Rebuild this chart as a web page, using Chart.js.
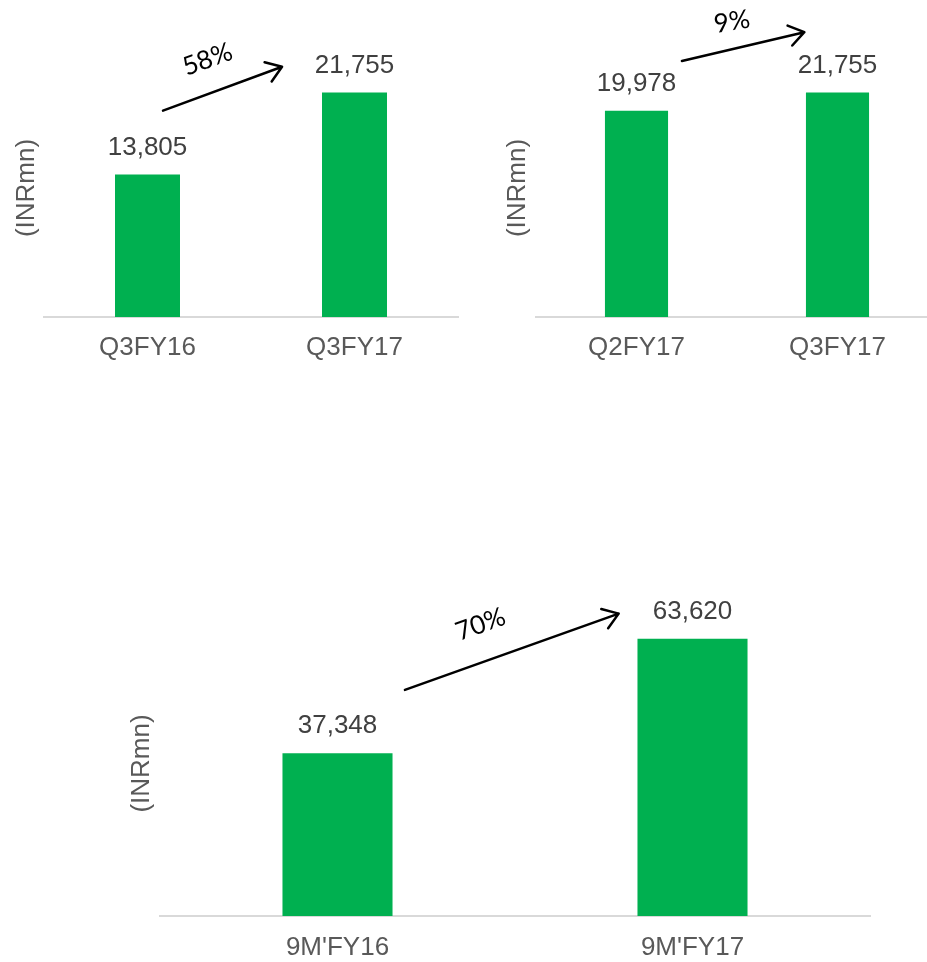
<!DOCTYPE html>
<html>
<head>
<meta charset="utf-8">
<script src="https://cdn.jsdelivr.net/npm/chart.js@4/dist/chart.umd.min.js"></script>
<style>
  html, body { margin: 0; padding: 0; background: #ffffff; overflow: hidden; width: 927px; height: 962px; }
  .box { position: absolute; }
</style>
</head>
<body>
<div class="box" style="left:0px;top:0px;width:470px;height:370px;"><canvas id="c1"></canvas></div>
<div class="box" style="left:480px;top:0px;width:470px;height:370px;"><canvas id="c2"></canvas></div>
<div class="box" style="left:100px;top:540px;width:800px;height:422px;"><canvas id="c3"></canvas></div>
<script>
// ---- data ----
const categoriesQoQYoY = ["Q3FY16", "Q3FY17"];
const valuesQoQYoY = [13805, 21755];
const categoriesQoQ = ["Q2FY17", "Q3FY17"];
const valuesQoQ = [19978, 21755];
const categories9M = ["9M'FY16", "9M'FY17"];
const values9M = [37348, 63620];
const growthLabels = ["58%", "9%", "70%"];
const yAxisTitle = "(INRmn)";
const yMaxQuarter = 25000;
const yMax9M = 70000;

const GREEN = "#00B050";
const FONT = "'Liberation Sans', Arial, sans-serif";

// draws value labels, rotated y title, and growth arrows
const decorPlugin = {
  id: 'decor',
  afterDatasetsDraw(chart, args, opts) {
    const ctx = chart.ctx;
    const area = chart.chartArea;
    const meta = chart.getDatasetMeta(0);
    const ds = chart.data.datasets[0];
    ctx.save();
    // value labels
    ctx.font = "26px " + FONT;
    ctx.fillStyle = "#404040";
    ctx.textAlign = "center";
    ctx.textBaseline = "middle";
    meta.data.forEach((bar, i) => {
      ctx.fillText(ds.data[i].toLocaleString('en-US'), bar.x, bar.y - 27);
    });
    // y title
    ctx.save();
    ctx.translate(area.left - opts.titleOffset, (area.top + area.bottom) / 2);
    ctx.rotate(-Math.PI / 2);
    ctx.fillStyle = "#595959";
    ctx.font = "26px " + FONT;
    ctx.fillText(yAxisTitle, 0, 0);
    ctx.restore();
    // arrow (in data coordinates through scales)
    const xs = chart.scales.x, ys = chart.scales.y;
    const a = opts.arrow;
    const x1 = xs.getPixelForValue(a.from[0]), y1 = ys.getPixelForValue(a.from[1]);
    const x2 = xs.getPixelForValue(a.to[0]), y2 = ys.getPixelForValue(a.to[1]);
    ctx.strokeStyle = "#000000";
    ctx.lineWidth = 2.5;
    ctx.lineCap = "round";
    ctx.lineJoin = "round";
    ctx.beginPath();
    ctx.moveTo(x1, y1);
    ctx.lineTo(x2, y2);
    const ang = Math.atan2(y2 - y1, x2 - x1);
    const hl = 18, ha = Math.PI / 5.2;
    ctx.moveTo(x2 - hl * Math.cos(ang - ha), y2 - hl * Math.sin(ang - ha));
    ctx.lineTo(x2, y2);
    ctx.lineTo(x2 - hl * Math.cos(ang + ha), y2 - hl * Math.sin(ang + ha));
    ctx.stroke();
    // growth label
    const tx = xs.getPixelForValue(a.text[0]), ty = ys.getPixelForValue(a.text[1]);
    ctx.translate(tx, ty);
    ctx.rotate(a.rot * Math.PI / 180);
    ctx.fillStyle = "#000000";
    ctx.font = "26px Lato, 'Open Sans', sans-serif";
    ctx.textAlign = "center";
    ctx.textBaseline = "middle";
    ctx.fillText(a.label, 0, 0);
    ctx.restore();
  }
};

function makeChart(id, cats, vals, yMax, padding, axisHeight, tickPad, barPct, titleOffset, arrow) {
  return new Chart(document.getElementById(id), {
    type: 'bar',
    data: {
      labels: cats,
      datasets: [{
        data: vals,
        backgroundColor: GREEN,
        borderWidth: 0,
        categoryPercentage: 1.0,
        barPercentage: barPct
      }]
    },
    options: {
      responsive: true,
      maintainAspectRatio: false,
      animation: false,
      layout: { padding: padding },
      plugins: {
        legend: { display: false },
        tooltip: { enabled: false },
        decor: { titleOffset: titleOffset, arrow: arrow }
      },
      scales: {
        x: {
          grid: { display: false, drawTicks: false },
          border: { display: true, color: "#d9d9d9", width: 2 },
          ticks: { color: "#595959", font: { size: 26, family: FONT }, padding: tickPad, maxRotation: 0 },
          afterFit: (scale) => { scale.height = axisHeight; }
        },
        y: {
          display: false,
          min: 0,
          max: yMax
        }
      }
    },
    plugins: [decorPlugin]
  });
}

makeChart('c1', categoriesQoQYoY, valuesQoQYoY, yMaxQuarter,
  { left: 44, right: 12, top: 59, bottom: 0 }, 53, 15, 0.314, 17,
  { from: [0.075, 20000], to: [0.65, 24250], text: [0.29, 24950], rot: -20, label: growthLabels[0] });

makeChart('c2', categoriesQoQ, valuesQoQ, yMaxQuarter,
  { left: 56, right: 12, top: 59, bottom: 0 }, 53, 15, 0.314, 18,
  { from: [0.226, 24800], to: [0.835, 27600], text: [0.475, 28600], rot: -9, label: growthLabels[1] });

makeChart('c3', categories9M, values9M, yMax9M,
  { left: 60, right: 30, top: 71, bottom: 0 }, 46, 16, 0.31, 18,
  { from: [0.19, 51900], to: [0.792, 69400], text: [0.403, 66900], rot: -20, label: growthLabels[2] });
</script>
</body>
</html>
